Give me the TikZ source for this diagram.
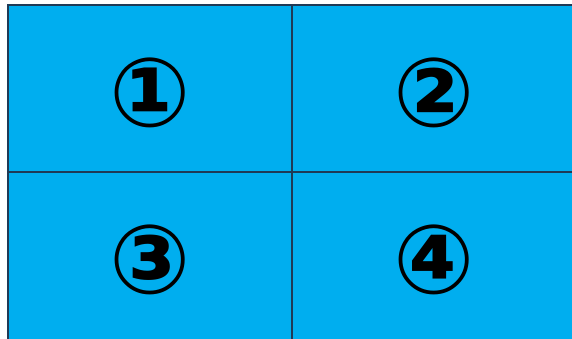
\documentclass[tikz,border=0pt]{standalone}
\usepackage{fontspec}
\newfontfamily\symfont{DejaVu Sans}
\definecolor{cellblue}{HTML}{00AEEF}
\definecolor{gridline}{HTML}{1F3A56}
\begin{document}
\begin{tikzpicture}[x=1pt,y=-1pt,
  cell/.style={draw=gridline, line width=2.2pt, fill=cellblue, minimum width=284pt, minimum height=167pt, inner sep=0pt, outer sep=0pt},
  num/.style={font=\symfont\bfseries\fontsize{96}{96}\selectfont, text=black, inner sep=0pt, anchor=center}]
\useasboundingbox (0,0) rectangle (572,339);
\clip (0,0) rectangle (572,339);
\fill[white] (0,0) rectangle (572,339);
\node[cell] (c1) at (150,88.5) {};
\node[cell] (c2) at (434,88.5) {};
\node[cell, minimum height=172pt] (c3) at (150,258) {};
\node[cell, minimum height=172pt] (c4) at (434,258) {};
\node[num] (n1) at ([yshift=-4pt]c1.center) {①};
\node[num] (n2) at ([yshift=-4pt]c2.center) {②};
\node[num] (n3) at ([yshift=-4pt]c1.center |- 0,255.5) {③};
\node[num] (n4) at ([yshift=-4pt]c2.center |- 0,255.5) {④};
\end{tikzpicture}
\end{document}
